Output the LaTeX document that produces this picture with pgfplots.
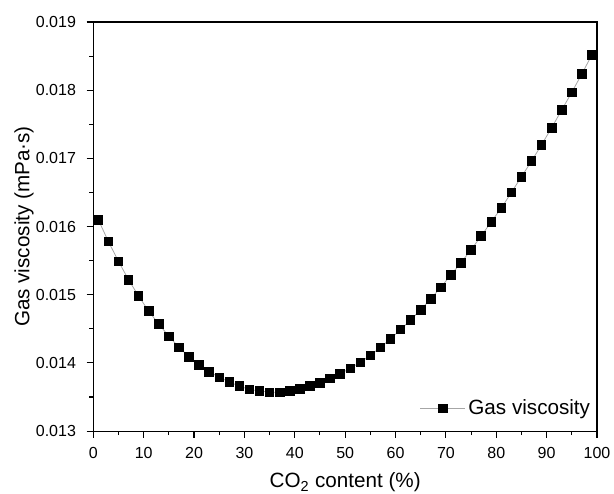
\documentclass[border=0pt]{standalone}
\usepackage{fontspec}
\setmainfont{Liberation Sans}
\usepackage{pgfplots}
\pgfplotsset{compat=1.18}
\begin{document}
\begin{tikzpicture}
\begin{axis}[
  at={(0,0)}, anchor=south west,
  scale only axis,
  width=378pt, height=307pt,
  xmin=0, xmax=100, ymin=0.013, ymax=0.019,
  xtick={0,10,...,100},
  ytick={0.013,0.014,...,0.019},
  minor x tick num=1, minor y tick num=1,
  tick align=outside,
  xtick pos=bottom, ytick pos=left,
  major tick length=5pt, minor tick length=3pt,
  tick style={black, line width=0.8pt},
  axis line style={line width=0.8pt},
  /pgf/number format/assume math mode=true,
  yticklabel style={/pgf/number format/.cd, fixed, precision=3, fixed zerofill, /tikz/.cd, xshift=-4.5pt},
  xticklabel style={yshift=-3.5pt},
  scaled y ticks=false,
  ticklabel style={font=\fontsize{12pt}{14pt}\selectfont},
  xlabel={CO\textsubscript{2} content (\%)},
  ylabel={Gas viscosity (mPa·s)},
  label style={font=\fontsize{15.5pt}{18pt}\selectfont},
  xlabel style={at={(rel axis cs:0.5,0)}, anchor=base, yshift=-42.5pt},
  ylabel style={at={(rel axis cs:0,0.5)}, anchor=center, rotate=0, yshift=52pt},
  legend style={draw=none, fill=none, at={(rel axis cs:1,0.056)}, anchor=east, font=\fontsize{15.5pt}{18pt}\selectfont},
  legend cell align=left,
  legend image code/.code={\draw[gray!70, line width=0.6pt] (0pt,0pt) -- (34pt,0pt);
     \fill[black] (17pt,0pt) ++(-3.2pt,-3.2pt) rectangle ++(6.4pt,6.4pt);},
]
\addplot[gray!70, line width=0.6pt, mark=square*, mark size=3.2pt, mark options={fill=black, draw=black, solid}] coordinates {
(1,0.01610) (3,0.01578) (5,0.01549) (7,0.01522) (9,0.01498)
(11,0.01476) (13,0.01457) (15,0.01439) (17,0.01423) (19,0.01409)
(21,0.01397) (23,0.01387) (25,0.01379) (27,0.01372) (29,0.01366)
(31,0.01361) (33,0.01359) (35,0.01357) (37,0.01357) (39,0.01359)
(41,0.01362) (43,0.01366) (45,0.01371) (47,0.01377) (49,0.01384)
(51,0.01392) (53,0.01401) (55,0.01411) (57,0.01423) (59,0.01435)
(61,0.01449) (63,0.01463) (65,0.01478) (67,0.01494) (69,0.01511)
(71,0.01529) (73,0.01547) (75,0.01566) (77,0.01586) (79,0.01607)
(81,0.01627) (83,0.01650) (85,0.01673) (87,0.01696) (89,0.01720)
(91,0.01745) (93,0.01771) (95,0.01797) (97,0.01824) (99,0.01852)
};
\addlegendentry{Gas viscosity}
\end{axis}
\pgfresetboundingbox
\path (-70pt,-47pt) rectangle (390.75pt,323.5pt);
\end{tikzpicture}
\end{document}
